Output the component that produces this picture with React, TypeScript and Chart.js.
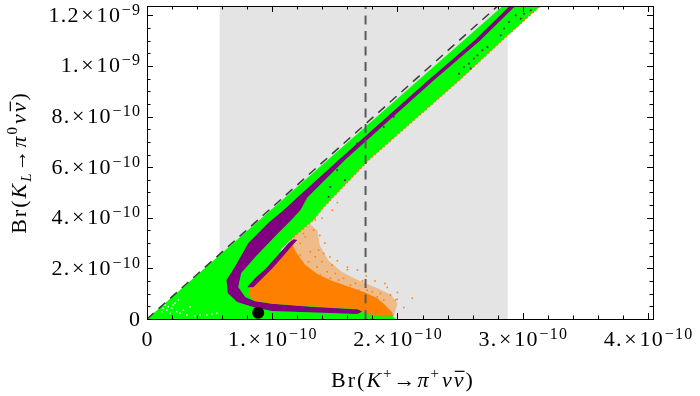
import { useEffect, useRef } from "react";
import { Chart, registerables } from "chart.js";

Chart.register(...registerables);

// All values in units of 1e-10
const X_MAX = 4.04;
const Y_MAX = 12.37;

const xMajorTicks = [0, 1, 2, 3, 4];
const xTickMantissa = ["0", "1.", "2.", "3.", "4."];
const xTickExponent = ["", "−10", "−10", "−10", "−10"];
const yMajorTicks = [0, 2, 4, 6, 8, 10, 12];
const yTickMantissa = ["0", "2.", "4.", "6.", "8.", "1.", "1.2"];
const yTickExponent = ["", "−10", "−10", "−10", "−10", "−9", "−9"];

// experimental band (K+) and central value
const measurementBand: [number, number][] = [[0.58, 0], [0.58, 12.37], [2.88, 12.37], [2.88, 0]];
const measurementCentral: [number, number][] = [[1.745, 0], [1.745, 12.37]];
// Grossman–Nir bound
const grossmanNir: [number, number][] = [[0, 0], [2.8, 12.37]];
// SM prediction
const smPoint: [number, number][] = [[0.888, 0.25]];

const greenRegion: [number, number][] = [
  [0, 0], [2.84, 12.37], [3.14, 12.37], [2.835, 11.01], [2.496, 9.45], [1.77, 6.28],
  [1.464, 4.7], [1.39, 4.3], [1.33, 3.91], [1.144, 3.12], [1.064, 2.72], [1.2, 2.0],
  [1.5, 1.2], [1.8, 0.5], [1.93, 0.2], [1.97, 0.08], [1.98, 0],
];

const bandLowerEdge: [number, number][] = [
  [1.144, 3.12], [1.33, 3.91], [1.39, 4.3], [1.464, 4.7], [1.77, 6.28], [2.496, 9.45], [2.835, 11.01], [3.14, 12.37],
];

const purpleRegion: [number, number][] = [
  [2.895, 12.37], [2.615, 11.01], [2.245, 9.44], [1.53, 6.28], [1.2, 4.8], [1.09, 4.3], [0.97, 3.8],
  [0.81, 3.0], [0.7, 2.05], [0.635, 1.54], [0.645, 1.03], [0.72, 0.67], [0.86, 0.45], [1.0, 0.32],
  [1.3, 0.27], [1.68, 0.2], [1.72, 0.3], [1.7, 0.38], [1.3, 0.48], [1.0, 0.6], [0.86, 0.7],
  [0.784, 0.87], [0.728, 1.26], [0.752, 1.82], [0.864, 2.45], [1.048, 3.4], [1.15, 3.9],
  [1.224, 4.3], [1.28, 4.8], [1.58, 6.28], [2.29, 9.44], [2.66, 11.01], [2.94, 12.37],
];

const purpleInner: [number, number][] = [
  [0.8, 1.25], [0.86, 1.6], [0.95, 2.0], [1.05, 2.55], [1.13, 3.0], [1.17, 3.15], [1.2, 3.12],
  [1.16, 2.9], [1.09, 2.5], [1.0, 2.0], [0.91, 1.55], [0.85, 1.25],
];

const orangeMedium: [number, number][] = [
  [1.144, 3.12], [1.3, 3.75], [1.36, 3.5], [1.38, 2.9], [1.45, 2.3], [1.56, 1.85], [1.7, 1.5],
  [1.85, 1.2], [1.95, 0.95], [2.0, 0.6], [1.97, 0.12], [1.5, 1.0], [1.3, 1.5],
];

const orangeDense: [number, number][] = [
  [1.144, 3.12], [1.19, 2.65], [1.26, 2.15], [1.36, 1.78], [1.48, 1.5], [1.62, 1.26], [1.74, 1.05],
  [1.84, 0.82], [1.9, 0.56], [1.95, 0.3], [1.97, 0.12], [1.88, 0.1], [1.75, 0.2], [1.68, 0.4],
  [1.3, 0.5], [1.0, 0.6], [0.86, 0.72], [0.81, 0.95], [0.82, 1.25], [0.885, 1.6], [0.975, 2.0],
  [1.07, 2.55], [1.15, 3.0],
];

const orangeSparse: [number, number][] = [
  [1.344, 3.91], [1.398, 3.98], [1.33, 3.51], [1.25, 3.38], [1.264, 3.25], [1.224, 2.99],
  [1.304, 2.66], [1.37, 2.72], [1.41, 2.59], [1.344, 2.46], [1.398, 2.26], [1.29, 2.26],
  [1.358, 2.06], [1.478, 2.13], [1.438, 1.87], [1.504, 1.8], [1.57, 1.61], [1.53, 1.54],
  [1.624, 1.34], [1.664, 1.41], [1.69, 1.14], [1.758, 1.14], [1.798, 1.08], [1.838, 0.88],
  [1.918, 1.25], [1.944, 0.95], [1.984, 0.75], [1.89, 0.75], [2.118, 0.82], [1.998, 0.78],
  [1.864, 1.01], [1.224, 2.53], [1.198, 2.2], [1.278, 1.93], [1.318, 1.67], [1.464, 1.61],
  [1.384, 1.74], [1.52, 4.6], [1.48, 4.3], [1.6, 2.05], [1.72, 1.5], [2.05, 0.45],
  [1.46, 2.45], [1.52, 2.3], [1.6, 1.95], [1.68, 1.93], [1.75, 1.7], [1.82, 1.5], [1.9, 1.4],
  [2.0, 1.05], [1.42, 3.0], [1.38, 3.3],
];

const purpleScatter: [number, number][] = [
  [2.85, 11.48], [2.89, 11.74], [2.944, 12.0], [2.984, 11.87], [3.01, 12.07], [3.064, 12.2],
  [2.824, 11.21], [2.718, 10.75], [2.678, 10.62], [2.638, 10.42], [2.61, 10.29], [2.57, 10.09],
  [2.53, 9.96], [2.584, 9.9], [2.49, 9.7], [1.518, 5.88], [1.58, 5.49], [1.678, 6.94],
  [1.89, 7.59], [1.97, 7.99], [1.464, 5.22], [1.45, 4.83],
];

const whiteScatter: [number, number][] = [
  [0.144, 0.553], [0.17, 0.486], [0.198, 0.422], [0.21, 0.553], [0.158, 0.355], [0.238, 0.288],
  [0.264, 0.225], [0.184, 0.225], [0.25, 0.75], [0.224, 0.62], [0.29, 0.355], [0.318, 0.158],
  [0.384, 0.118], [0.424, 0.158], [0.478, 0.158], [0.518, 0.197], [0.558, 0.225], [0.344, 0.486],
  [0.118, 0.288], [0.13, 0.422],
];

const GREEN = "#00ff00";
const PURPLE = "#800080";
const ORANGE = "#ff8000";
const SERIF = '"Liberation Serif", "Times New Roman", serif';

type Seg = { t: string; it?: boolean; sup?: boolean; sub?: boolean; over?: boolean; gap?: number };
type Style = { F: number; SF: number; ls: number; raise: number };

function segFont(s: Seg, st: Style) {
  const size = s.sup || s.sub ? st.SF : st.F;
  return `${s.it ? "italic " : ""}${size}px ${SERIF}`;
}
function segWidth(ctx: CanvasRenderingContext2D, s: Seg, st: Style) {
  ctx.font = segFont(s, st);
  let w = 0;
  for (const ch of s.t) w += ctx.measureText(ch).width + st.ls;
  return w;
}
function segsWidth(ctx: CanvasRenderingContext2D, segs: Seg[], st: Style) {
  let w = 0;
  for (const s of segs) w += segWidth(ctx, s, st) + (s.gap || 0);
  return w - st.ls;
}
function drawSegs(ctx: CanvasRenderingContext2D, segs: Seg[], st: Style, x: number, y: number) {
  let cx = x;
  for (const s of segs) {
    ctx.font = segFont(s, st);
    const dy = s.sup ? -st.F * st.raise : s.sub ? st.F * 0.22 : 0;
    const start = cx;
    for (const ch of s.t) {
      ctx.fillText(ch, cx, y + dy);
      cx += ctx.measureText(ch).width + st.ls;
    }
    if (s.over) ctx.fillRect(start + 1, y - st.F * 0.74, cx - start - st.ls, 1.2);
    cx += s.gap || 0;
  }
}
function sciSegs(m: string, e: string): Seg[] {
  if (!e) return [{ t: m }];
  return [{ t: m, gap: 1.5 }, { t: "×", gap: 1.5 }, { t: "10", gap: 0.5 }, { t: e, sup: true }];
}

const overlay = {
  id: "overlay",
  afterDraw(chart: any) {
    const { ctx, chartArea: a } = chart;
    const xs = chart.scales.x;
    const ys = chart.scales.y;
    ctx.save();
    ctx.strokeStyle = "#000";
    ctx.lineWidth = 1;
    ctx.beginPath();
    for (let i = 0; i <= 20; i++) {
      const v = i * 0.2;
      if (v > X_MAX) break;
      const px = Math.round(xs.getPixelForValue(v)) + 0.5;
      const len = i % 5 === 0 ? 6 : 3.5;
      ctx.moveTo(px, a.bottom);
      ctx.lineTo(px, a.bottom - len);
      ctx.moveTo(px, a.top);
      ctx.lineTo(px, a.top + len);
    }
    for (let i = 0; i <= 24; i++) {
      const v = i * 0.5;
      if (v > Y_MAX) break;
      const py = Math.round(ys.getPixelForValue(v)) + 0.5;
      const len = i % 4 === 0 ? 6 : 3.5;
      ctx.moveTo(a.left, py);
      ctx.lineTo(a.left + len, py);
      ctx.moveTo(a.right, py);
      ctx.lineTo(a.right - len, py);
    }
    ctx.stroke();
    ctx.strokeRect(a.left + 0.5, a.top + 0.5, a.right - a.left, a.bottom - a.top);

    ctx.fillStyle = "#000";
    ctx.textBaseline = "alphabetic";
    ctx.textAlign = "left";
    const tick: Style = { F: 22, SF: 16, ls: 1.3, raise: 0.32 };
    xMajorTicks.forEach((v, i) => {
      const segs = sciSegs(xTickMantissa[i], xTickExponent[i]);
      const w = segsWidth(ctx, segs, tick);
      const px = xs.getPixelForValue(v);
      drawSegs(ctx, segs, tick, px - w / 2, a.bottom + 27);
    });
    yMajorTicks.forEach((v, i) => {
      const segs = sciSegs(yTickMantissa[i], yTickExponent[i]);
      const w = segsWidth(ctx, segs, tick);
      const py = ys.getPixelForValue(v);
      drawSegs(ctx, segs, tick, a.left - 7 - w, py + 6.5);
    });

    const title: Style = { F: 22, SF: 15, ls: 2.0, raise: 0.42 };
    const xTitle: Seg[] = [
      { t: "Br(" }, { t: "K", it: true }, { t: "+", sup: true }, { t: "→" }, { t: "π", it: true },
      { t: "+", sup: true, gap: 1 }, { t: "ν", it: true }, { t: "ν", it: true, over: true }, { t: ")" },
    ];
    const wx = segsWidth(ctx, xTitle, title);
    drawSegs(ctx, xTitle, title, (a.left + a.right) / 2 + 2 - wx / 2, a.bottom + 68);

    const yTitle: Seg[] = [
      { t: "Br(" }, { t: "K", it: true }, { t: "L", it: true, sub: true }, { t: "→" }, { t: "π", it: true },
      { t: "0", sup: true, gap: 1 }, { t: "ν", it: true }, { t: "ν", it: true, over: true }, { t: ")" },
    ];
    const wy = segsWidth(ctx, yTitle, title);
    ctx.translate(26, (a.top + a.bottom) / 2 + 1);
    ctx.rotate(-Math.PI / 2);
    drawSegs(ctx, yTitle, title, -wy / 2, 0);
    ctx.restore();
  },
};

export default function App() {
  const ref = useRef<HTMLCanvasElement>(null);
  useEffect(() => {
    const pts = (arr: [number, number][]) => arr.map(([x, y]) => ({ x, y }));
    const poly = (arr: [number, number][], color: string, order: number) => ({
      type: "line",
      data: pts(arr),
      borderWidth: 0,
      borderColor: "rgba(0,0,0,0)",
      backgroundColor: color,
      fill: "shape",
      pointRadius: 0,
      tension: 0,
      order,
    });
    const dots = (arr: [number, number][], color: string, r: number, order: number) => ({
      type: "scatter",
      data: pts(arr),
      backgroundColor: color,
      borderWidth: 0,
      pointRadius: r,
      pointStyle: "rect",
      order,
    });
    const line = (arr: [number, number][], color: string, w: number, dash: number[], order: number) => ({
      type: "line",
      data: pts(arr),
      borderColor: color,
      borderWidth: w,
      borderDash: dash,
      fill: false,
      pointRadius: 0,
      tension: 0,
      order,
    });
    const chart = new Chart(ref.current as HTMLCanvasElement, {
      type: "line",
      data: {
        datasets: [
          poly(measurementBand, "#e4e4e4", 20),
          poly(greenRegion, GREEN, 19),
          poly(purpleRegion, PURPLE, 18),
          poly(orangeMedium, "rgba(255,128,0,0.4)", 17),
          poly(orangeDense, ORANGE, 16),
          poly(purpleInner, PURPLE, 15),
          line(bandLowerEdge, ORANGE, 1.4, [2, 2], 14),
          dots(purpleScatter, PURPLE, 1.2, 13),
          dots(orangeSparse, ORANGE, 1.1, 12),
          dots(whiteScatter, "#ffffff", 1.1, 11),
          line(measurementCentral, "#5a5a5a", 2, [9, 6.5], 3),
          line(grossmanNir, "#3a3a3a", 1.5, [9, 6.5], 2),
          { type: "scatter", data: pts(smPoint), backgroundColor: "#000", borderWidth: 0, pointRadius: 6, order: 0 },
        ] as any,
      },
      options: {
        animation: false,
        responsive: true,
        maintainAspectRatio: false,
        events: [],
        layout: { padding: { left: 147, right: 47, top: 6, bottom: 77 } },
        scales: {
          x: { type: "linear", min: 0, max: X_MAX, display: false },
          y: { type: "linear", min: 0, max: Y_MAX, display: false },
        },
        plugins: { legend: { display: false }, tooltip: { enabled: false } },
      },
      plugins: [overlay],
    });
    return () => chart.destroy();
  }, []);
  return (
    <div style={{ position: "absolute", left: 0, top: 0, width: 700, height: 396, background: "#fff" }}>
      <canvas ref={ref} />
    </div>
  );
}
